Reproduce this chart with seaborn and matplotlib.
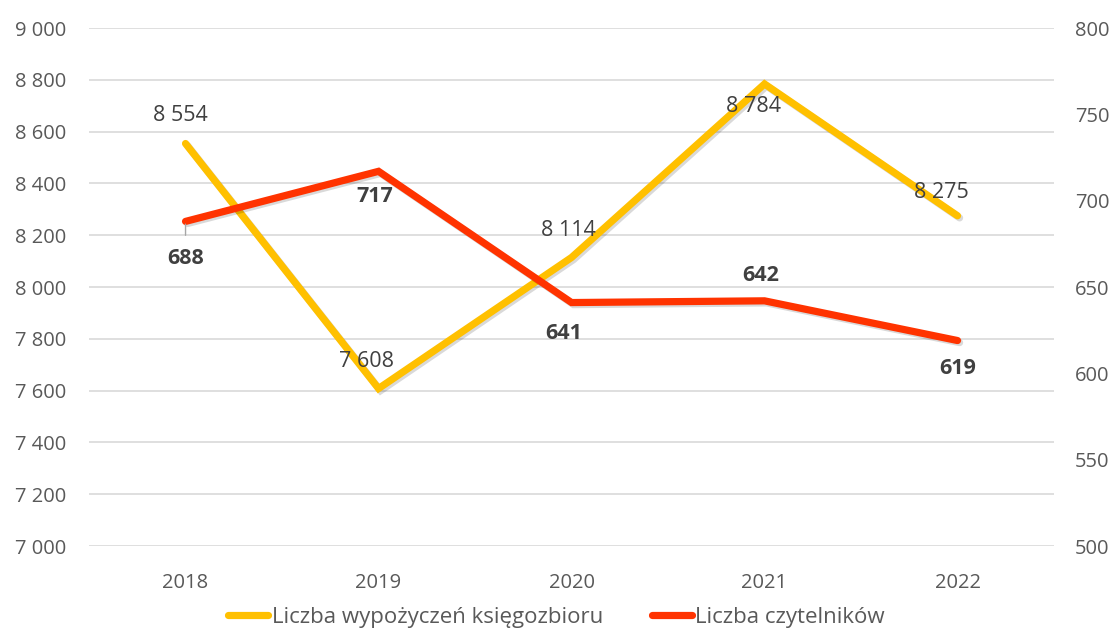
import matplotlib
matplotlib.use("Agg")
import matplotlib.pyplot as plt
import matplotlib.patheffects as pe
from matplotlib.ticker import FuncFormatter
import seaborn as sns
import pandas as pd

years = ["2018", "2019", "2020", "2021", "2022"]
loans = [8554, 7608, 8114, 8784, 8275]
readers = [688, 717, 641, 642, 619]

loans_name = "Liczba wypożyczeń księgozbioru"
readers_name = "Liczba czytelników"

# offsets for data labels (points), Excel-like placement
loans_off = [(-3.5, 20), (-9, 19.5), (-2, 19.5), (-8, -16), (-11.5, 17)]
readers_off = [(0, -27), (-3, -18), (-6, -22), (-3, 18.5), (0, -20)]

sns.set_style("white")
plt.rcParams["font.family"] = ["Open Sans", "DejaVu Sans"]

df = pd.DataFrame({"rok": years, "wyp": loans, "czyt": readers})
df["x"] = range(len(years))

fig = plt.figure(figsize=(11.13, 6.34), dpi=100)
ax = fig.add_axes([0.080, 0.1388, 0.867, 0.817])
ax2 = ax.twinx()

shadow = [pe.SimpleLineShadow(offset=(1.5, -1.5), alpha=0.15), pe.Normal()]

sns.lineplot(data=df, x="x", y="wyp", ax=ax, color="#FFC000", linewidth=5.2,
             solid_capstyle="round", solid_joinstyle="miter", path_effects=shadow, zorder=3)
sns.lineplot(data=df, x="x", y="czyt", ax=ax2, color="#FF3300", linewidth=5.2,
             solid_capstyle="round", solid_joinstyle="miter", path_effects=shadow, zorder=3)

fmt = FuncFormatter(lambda v, p: f"{int(v):,}".replace(",", " "))

ax.set_ylim(7000, 9000)
ax.set_yticks(range(7000, 9001, 200))
ax.yaxis.set_major_formatter(fmt)
ax2.set_ylim(500, 800)
ax2.set_yticks(range(500, 801, 50))
ax.set_xlim(-0.5, 4.5)
ax.set_xticks(df["x"])
ax.set_xticklabels(years)

ax.grid(axis="y", color="#D9D9D9", linewidth=1.2)
ax.set_axisbelow(True)
for a in (ax, ax2):
    for s in a.spines.values():
        s.set_visible(False)
    a.tick_params(length=0, labelsize=14.5, labelcolor="#595959")
    a.set_xlabel("")
    a.set_ylabel("")
ax.tick_params(axis="y", pad=16.5)
ax2.tick_params(axis="y", pad=15)
ax.tick_params(axis="x", pad=19.5)

for i, v in enumerate(loans):
    ax.annotate(f"{v:,}".replace(",", " "), (i, v), xytext=loans_off[i],
                textcoords="offset points", ha="center", va="center",
                fontsize=15.5, color="#404040", zorder=5)
for i, v in enumerate(readers):
    ax2.annotate(str(v), (i, v), xytext=readers_off[i],
                 textcoords="offset points", ha="center", va="center",
                 fontsize=15.5, fontweight="bold", color="#404040", zorder=5)
# leader line for first red label
ax2.annotate("", (0, readers[0]), xytext=(0, -12), textcoords="offset points",
             arrowprops=dict(arrowstyle="-", color="#A6A6A6", lw=1))

h1 = plt.Line2D([], [], color="#FFC000", linewidth=5.2, solid_capstyle="round")
h2 = plt.Line2D([], [], color="#FF3300", linewidth=5.2, solid_capstyle="round")
fig.legend([h1, h2], [loans_name, readers_name], loc="center", ncol=2,
           bbox_to_anchor=(0.5, 0.026), frameon=False, fontsize=16,
           labelcolor="#595959", handlelength=1.8, handletextpad=0.15,
           columnspacing=2.2, borderpad=0.1)

fig.savefig("out.png", dpi=100)
